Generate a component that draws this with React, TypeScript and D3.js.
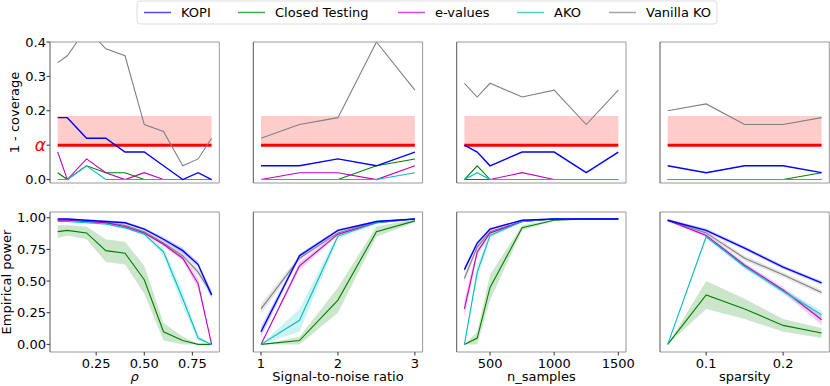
import React from 'react';
import * as d3 from 'd3';

// x values of each experiment
const rho = [0.05, 0.1, 0.2, 0.3, 0.4, 0.5, 0.6, 0.7, 0.78, 0.85];
const snr = [1, 1.5, 2, 2.5, 3];
const nSamples = [300, 400, 500, 750, 1000, 1250, 1500];
const sparsity = [0.05, 0.1, 0.15, 0.2, 0.25];

const methods = ['KOPI', 'Closed Testing', 'e-values', 'AKO', 'Vanilla KO'];
const colors = ['#0000ff', '#008000', '#bf00bf', '#00bfbf', '#808080'];

const alphaLevel = 0.1;
const alphaBandTop = 0.185;

// 1 - coverage (top row), one array per method in legend order
const coverRho = [
  [0.18, 0.18, 0.12, 0.12, 0.08, 0.08, 0.04, 0.0, 0.02, 0.0],
  [0.02, 0, 0.04, 0.02, 0.02, 0, 0, 0, 0, 0],
  [0.08, 0, 0.06, 0.02, 0, 0.02, 0, 0, 0, 0],
  [0, 0, 0.04, 0, 0, 0, 0, 0, 0, 0],
  [0.34, 0.36, 0.44, 0.38, 0.36, 0.16, 0.14, 0.04, 0.06, 0.12],
];
const coverSnr = [
  [0.04, 0.04, 0.06, 0.04, 0.08],
  [0, 0, 0, 0.04, 0.06],
  [0, 0.02, 0.02, 0, 0.04],
  [0, 0, 0, 0, 0.02],
  [0.12, 0.16, 0.18, 0.4, 0.26],
];
const coverN = [
  [0.1, 0.08, 0.04, 0.08, 0.08, 0.02, 0.08],
  [0, 0.04, 0, 0, 0, 0, 0],
  [0, 0, 0, 0.02, 0, 0, 0],
  [0, 0.02, 0, 0, 0, 0, 0],
  [0.28, 0.24, 0.28, 0.24, 0.26, 0.16, 0.26],
];
const coverSparsity = [
  [0.04, 0.02, 0.04, 0.04, 0.02],
  [0, 0, 0, 0, 0.02],
  [0, 0, 0, 0, 0],
  [0, 0, 0, 0, 0],
  [0.2, 0.22, 0.16, 0.16, 0.18],
];

// empirical power (bottom row) and half width of the shaded band
const powerRho = [
  [0.99, 0.99, 0.98, 0.97, 0.96, 0.91, 0.83, 0.74, 0.63, 0.39],
  [0.89, 0.9, 0.88, 0.74, 0.72, 0.51, 0.1, 0.03, 0.0, 0.0],
  [0.98, 0.98, 0.97, 0.96, 0.93, 0.88, 0.79, 0.68, 0.48, 0.0],
  [0.97, 0.97, 0.96, 0.95, 0.92, 0.87, 0.73, 0.36, 0.05, 0.0],
  [0.98, 0.98, 0.97, 0.96, 0.94, 0.89, 0.8, 0.7, 0.57, 0.4],
];
const ciRho = [
  [0.005, 0.005, 0.005, 0.01, 0.01, 0.01, 0.015, 0.02, 0.02, 0.03],
  [0.05, 0.04, 0.05, 0.09, 0.09, 0.11, 0.07, 0.03, 0.005, 0],
  [0.005, 0.005, 0.005, 0.01, 0.01, 0.01, 0.015, 0.02, 0.04, 0],
  [0.005, 0.005, 0.005, 0.01, 0.01, 0.01, 0.03, 0.06, 0.02, 0],
  [0.005, 0.005, 0.005, 0.01, 0.01, 0.01, 0.02, 0.03, 0.03, 0.03],
];
const powerSnr = [
  [0.1, 0.7, 0.9, 0.97, 0.99],
  [0.0, 0.03, 0.35, 0.89, 0.975],
  [0.0, 0.62, 0.87, 0.96, 0.99],
  [0.0, 0.19, 0.855, 0.96, 0.99],
  [0.28, 0.68, 0.88, 0.97, 0.99],
];
const ciSnr = [
  [0.04, 0.015, 0.01, 0.005, 0.003],
  [0, 0.03, 0.1, 0.04, 0.01],
  [0, 0.03, 0.01, 0.005, 0.003],
  [0, 0.09, 0.02, 0.01, 0.003],
  [0.04, 0.02, 0.01, 0.005, 0.003],
];
const powerN = [
  [0.59, 0.8, 0.91, 0.98, 0.99, 0.99, 0.99],
  [0.0, 0.05, 0.45, 0.92, 0.98, 0.99, 0.99],
  [0.28, 0.73, 0.88, 0.97, 0.99, 0.99, 0.99],
  [0.0, 0.57, 0.86, 0.97, 0.99, 0.99, 0.99],
  [0.52, 0.77, 0.89, 0.97, 0.99, 0.99, 0.99],
];
const ciN = [
  [0.02, 0.015, 0.01, 0.005, 0.003, 0.003, 0.003],
  [0, 0.05, 0.1, 0.02, 0.005, 0.003, 0.003],
  [0.07, 0.03, 0.015, 0.005, 0.003, 0.003, 0.003],
  [0, 0.05, 0.02, 0.005, 0.003, 0.003, 0.003],
  [0.03, 0.02, 0.01, 0.005, 0.003, 0.003, 0.003],
];
const powerSparsity = [
  [0.98, 0.9, 0.76, 0.61, 0.485],
  [0.0, 0.39, 0.28, 0.15, 0.09],
  [0.98, 0.86, 0.625, 0.43, 0.195],
  [0.0, 0.85, 0.615, 0.42, 0.235],
  [0.98, 0.88, 0.68, 0.55, 0.41],
];
const ciSparsity = [
  [0.01, 0.015, 0.015, 0.015, 0.015],
  [0, 0.11, 0.08, 0.05, 0.04],
  [0.01, 0.015, 0.02, 0.02, 0.04],
  [0, 0.015, 0.02, 0.02, 0.03],
  [0.01, 0.015, 0.02, 0.02, 0.02],
];

const xLabels = ['ρ', 'Signal-to-noise ratio', 'n_samples', 'sparsity'];
const xTicks = [[0.25, 0.5, 0.75], [1, 2, 3], [500, 1000, 1500], [0.1, 0.2]];
const xTickLabels = [['0.25', '0.50', '0.75'], ['1', '2', '3'], ['500', '1000', '1500'], ['0.1', '0.2']];
const coverTicks = [0, 0.1, 0.2, 0.3, 0.4];
const coverTickLabels = ['0.0', 'α', '0.2', '0.3', '0.4'];
const powerTicks = [0, 0.25, 0.5, 0.75, 1];
const powerTickLabels = ['0.00', '0.25', '0.50', '0.75', '1.00'];

const columns = [
  { x: rho, cover: coverRho, power: powerRho, ci: ciRho, domain: [0.01, 0.89] },
  { x: snr, cover: coverSnr, power: powerSnr, ci: ciSnr, domain: [0.9, 3.1] },
  { x: nSamples, cover: coverN, power: powerN, ci: ciN, domain: [240, 1560] },
  { x: sparsity, cover: coverSparsity, power: powerSparsity, ci: ciSparsity, domain: [0.04, 0.26] },
];

const W = 830;
const H = 386;
const FONT = 'DejaVu Sans, sans-serif';
const panelLeft = [50, 253.3, 456.7, 660];
const panelW = 169.3;
const topRow = { y0: 42, y1: 183 };
const botRow = { y0: 212, y1: 352 };
const drawOrder = [4, 1, 2, 3, 0];

// legend layout (text x positions)
const legendTextX = [181, 275, 435, 554, 646];

const App = () => {
  const yCover = d3.scaleLinear().domain([-0.01, 0.4]).range([topRow.y1, topRow.y0]);
  const yPower = d3.scaleLinear().domain([-0.06, 1.045]).range([botRow.y1, botRow.y0]);

  return (
    <svg width={W} height={H} style={{ position: 'absolute', left: 0, top: 0, background: '#fff' }}
      fontFamily={FONT}>
      <defs>
        {panelLeft.map((l, i) => (
          <clipPath id={`clipTop${i}`} key={i}>
            <rect x={l} y={topRow.y0} width={panelW} height={topRow.y1 - topRow.y0} />
          </clipPath>
        ))}
      </defs>

      {columns.map((col, c) => {
        const left = panelLeft[c];
        const x = d3.scaleLinear().domain(col.domain).range([left, left + panelW]);
        const xMin = d3.min(col.x) as number;
        const xMax = d3.max(col.x) as number;
        const lineTop = d3.line<number>().x((_, i) => x(col.x[i])).y(d => yCover(d));
        const lineBot = d3.line<number>().x((_, i) => x(col.x[i])).y(d => yPower(d));
        return (
          <g key={c}>
            {/* top: 1 - coverage */}
            <rect x={left} y={topRow.y0} width={panelW} height={topRow.y1 - topRow.y0} fill="#fff" />
            <rect x={x(xMin)} y={yCover(alphaBandTop)} width={x(xMax) - x(xMin)}
              height={yCover(alphaLevel) - yCover(alphaBandTop)} fill="#ff0000" fillOpacity={0.2} />
            <line x1={x(xMin)} x2={x(xMax)} y1={yCover(alphaLevel)} y2={yCover(alphaLevel)}
              stroke="#ff0000" strokeWidth={3} />
            <g clipPath={`url(#clipTop${c})`}>
              {drawOrder.map(m => (
                <path key={m} d={lineTop(col.cover[m]) || ''} fill="none" stroke={colors[m]}
                  strokeWidth={m === 0 ? 1.4 : 1.1} />
              ))}
            </g>
            <line x1={left} x2={left + panelW} y1={topRow.y0} y2={topRow.y0} stroke="#999" />
            <line x1={left + panelW} x2={left + panelW} y1={topRow.y0} y2={topRow.y1} stroke="#999" />
            <line x1={left} x2={left + panelW} y1={topRow.y1} y2={topRow.y1} stroke="#999" />
            <line x1={left} x2={left} y1={topRow.y0} y2={topRow.y1} stroke="#555" />

            {/* bottom: empirical power */}
            {drawOrder.map(m => {
              const area = d3.area<number>()
                .x((_, i) => x(col.x[i]))
                .y0((d, i) => yPower(Math.max(0, d - col.ci[m][i])))
                .y1((d, i) => yPower(Math.min(1, d + col.ci[m][i])));
              return (
                <path key={`a${m}`} d={area(col.power[m]) || ''} fill={colors[m]} fillOpacity={0.2} />
              );
            })}
            {drawOrder.map(m => (
              <path key={`l${m}`} d={lineBot(col.power[m]) || ''} fill="none" stroke={colors[m]}
                strokeWidth={m === 0 ? 1.4 : 1.1} />
            ))}
            <line x1={left} x2={left + panelW} y1={botRow.y0} y2={botRow.y0} stroke="#999" />
            <line x1={left + panelW} x2={left + panelW} y1={botRow.y0} y2={botRow.y1} stroke="#999" />
            <line x1={left} x2={left + panelW} y1={botRow.y1} y2={botRow.y1} stroke="#999" />
            <line x1={left} x2={left} y1={botRow.y0} y2={botRow.y1} stroke="#555" />

            {xTicks[c].map((t, i) => (
              <g key={`xt${i}`}>
                <line x1={x(t)} x2={x(t)} y1={botRow.y1} y2={botRow.y1 + 3.5} stroke="#333" />
                <text x={x(t)} y={botRow.y1 + 15.5} fontSize={13} textAnchor="middle" fill="#000">
                  {xTickLabels[c][i]}
                </text>
              </g>
            ))}
            <text x={left + panelW / 2} y={381} fontSize={13} textAnchor="middle" fill="#000"
              fontStyle={c === 0 ? 'italic' : 'normal'}>
              {xLabels[c]}
            </text>
          </g>
        );
      })}

      {/* y axes of the first column */}
      {coverTicks.map((t, i) => (
        <g key={`yc${i}`}>
          <line x1={panelLeft[0] - 3.5} x2={panelLeft[0]} y1={yCover(t)} y2={yCover(t)} stroke="#333" />
          {coverTickLabels[i] === 'α' ? (
            <text x={46} y={yCover(t) + 5.5} fontSize={17} fontStyle="italic" textAnchor="end" fill="#ff0000">
              {coverTickLabels[i]}
            </text>
          ) : (
            <text x={46} y={yCover(t) + 4.7} fontSize={13} textAnchor="end" fill="#000">
              {coverTickLabels[i]}
            </text>
          )}
        </g>
      ))}
      {powerTicks.map((t, i) => (
        <g key={`yp${i}`}>
          <line x1={panelLeft[0] - 3.5} x2={panelLeft[0]} y1={yPower(t)} y2={yPower(t)} stroke="#333" />
          <text x={46} y={yPower(t) + 4.7} fontSize={13} textAnchor="end" fill="#000">
            {powerTickLabels[i]}
          </text>
        </g>
      ))}
      <text transform={`translate(19,${(topRow.y0 + topRow.y1) / 2}) rotate(-90)`} fontSize={13}
        textAnchor="middle" fill="#000">1 - coverage</text>
      <text transform={`translate(11,${(botRow.y0 + botRow.y1) / 2}) rotate(-90)`} fontSize={13}
        textAnchor="middle" fill="#000">Empirical power</text>

      {/* legend */}
      <rect x={137} y={1} width={580} height={23} rx={3} fill="#fff" stroke="#ddd" />
      {methods.map((m, i) => (
        <g key={m}>
          <line x1={legendTextX[i] - 37} x2={legendTextX[i] - 10} y1={12.5} y2={12.5}
            stroke={colors[i]} strokeOpacity={0.7} strokeWidth={1.5} />
          <text x={legendTextX[i]} y={17.2} fontSize={13} fill="#000">{m}</text>
        </g>
      ))}
    </svg>
  );
};

export default App;
